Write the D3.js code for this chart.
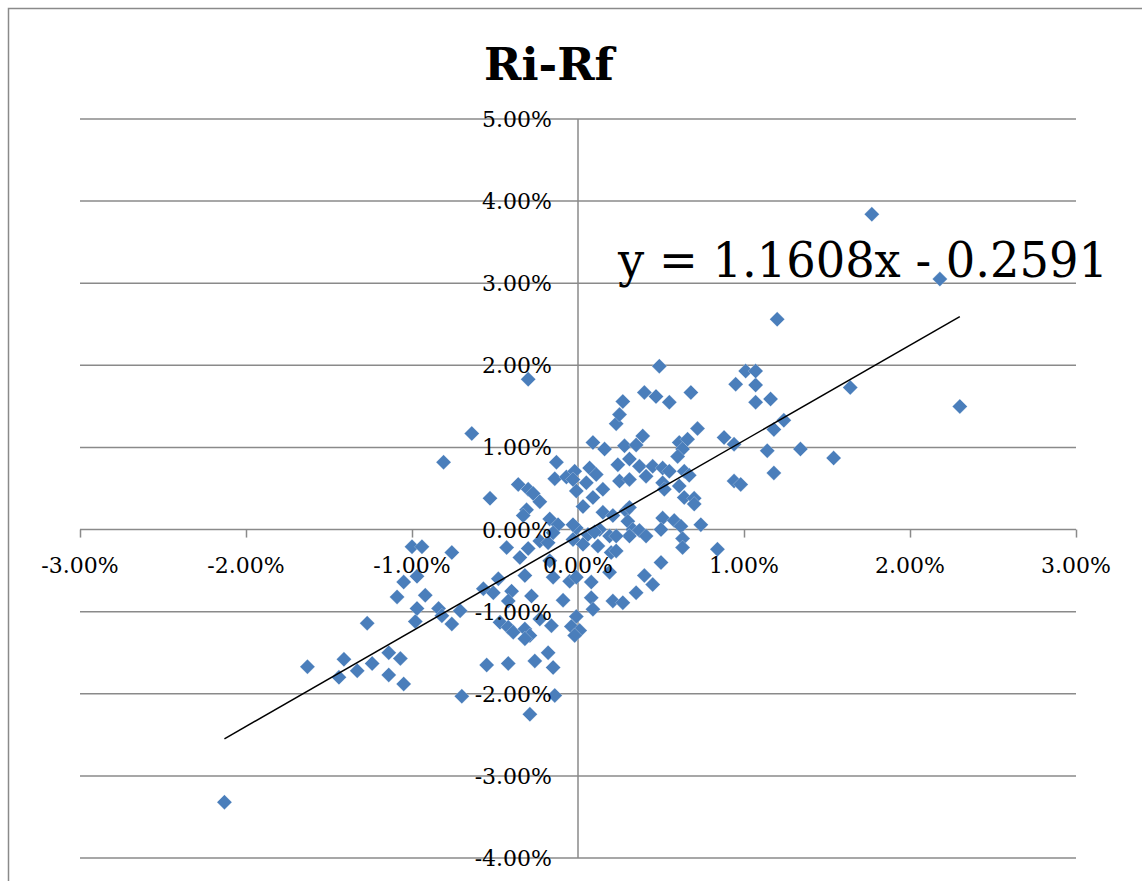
<!DOCTYPE html>
<html>
<head>
<meta charset="utf-8">
<title>Ri-Rf</title>
<script src="https://cdn.jsdelivr.net/npm/d3@7"></script>
<style>
  html, body { margin: 0; padding: 0; background: #ffffff; overflow: hidden; }
  svg { display: block; }
  text { font-family: "DejaVu Serif", "Liberation Serif", serif; fill: #000; }
</style>
</head>
<body>
<svg id="chart" width="1142" height="881"></svg>
<script>
// Market excess return (x, %) vs. stock excess return Ri-Rf (y, %)
const marketExcess = [
  -2.13, -1.63, -1.41, -1.44, -1.33, -1.24, -1.14, -1.07, -1.14, -1.05,
  -1.27, -1.00, -0.94, -0.76, -0.97, -1.05, -1.09, -0.92, -0.97, -0.84,
  -0.98, -0.82, -0.76, -0.71, -0.70, -0.81, -0.64,
  -0.43, -0.30, -0.35, -0.23, -0.18, -0.32, -0.48, -0.57, -0.51, -0.40,
  -0.42, -0.28, -0.15, -0.17, -0.47, -0.42, -0.39, -0.32, -0.29, -0.32,
  -0.23, -0.16, -0.18, -0.26, -0.15, -0.42, -0.55, -0.14, -0.29, -0.09,
  -0.05, -0.01, 0.08, 0.08, 0.09, 0.21, 0.27, 0.35, 0.40, 0.45,
  0.50, 0.19, 0.20, -0.01, -0.04, 0.01, -0.02, 0.03, -0.03,
  -0.31, -0.33, -0.17, -0.12, -0.15, -0.23, 0.15, 0.21, 0.29, 0.31,
  0.30, 0.33, 0.37, 0.41, 0.31, -0.01, 0.06, 0.13, 0.19, 0.51,
  0.58, 0.62, 0.50, 0.63, 0.63, 0.74, 0.84,
  -0.13, -0.14, -0.07, -0.02, -0.03, 0.07, 0.11, 0.05, 0.15, -0.01,
  0.09, 0.03, 0.24, 0.31, 0.25, 0.31, 0.37, 0.41, 0.45, 0.51,
  0.55, 0.64, 0.67, -0.36, -0.30, -0.27, -0.53, 0.09, 0.16, 0.28,
  0.35, 0.39, 0.51, 0.52, 0.61, 0.66, 0.63, 0.72, 0.60, 0.61,
  0.64, 0.70, 0.70, 0.88, 0.94, 0.94, 0.98, 1.14, 1.18, 1.18,
  1.24, 1.34, 1.54,
  0.23, 0.25, 0.27, 0.40, 0.47, 0.55, 0.68, 0.95, 1.07, 1.07,
  1.16, 1.01, 1.07, 0.49, 1.64, 1.20, 1.77, 2.18, 2.30, -0.30,
  -0.03, 0.12, 0.23, 0.23, 0.10
];
const stockExcess = [
  -3.32, -1.67, -1.58, -1.80, -1.72, -1.63, -1.50, -1.57, -1.77, -1.88,
  -1.14, -0.21, -0.21, -0.28, -0.57, -0.64, -0.82, -0.80, -0.96, -0.96,
  -1.12, -1.05, -1.15, -0.99, -2.03, 0.82, 1.17,
  -0.22, -0.23, -0.34, -0.14, -0.16, -0.56, -0.60, -0.72, -0.77, -0.75,
  -0.87, -0.81, -0.58, -0.38, -1.13, -1.19, -1.25, -1.21, -1.29, -1.33,
  -1.09, -1.17, -1.50, -1.60, -1.68, -1.63, -1.65, -2.02, -2.25, -0.86,
  -0.63, -0.58, -0.64, -0.83, -0.97, -0.87, -0.89, -0.77, -0.56, -0.67,
  -0.40, -0.52, -0.28, -1.06, -1.18, -1.23, -1.29, -0.18, -0.12,
  0.24, 0.17, 0.13, 0.06, -0.04, 0.34, 0.21, 0.17, 0.23, 0.27,
  0.10, 0.00, -0.01, -0.08, -0.08, 0.02, -0.06, 0.00, -0.08, 0.14,
  0.11, 0.04, 0.00, -0.11, -0.22, 0.06, -0.24,
  0.82, 0.62, 0.64, 0.71, 0.61, 0.75, 0.67, 0.57, 0.49, 0.47,
  0.39, 0.28, 0.79, 0.86, 0.59, 0.61, 0.77, 0.65, 0.77, 0.75,
  0.71, 0.71, 0.66, 0.55, 0.49, 0.44, 0.38, 1.06, 0.98, 1.02,
  1.03, 1.14, 0.57, 0.49, 1.06, 1.10, 0.98, 1.23, 0.89, 0.53,
  0.39, 0.38, 0.31, 1.12, 1.04, 0.59, 0.55, 0.96, 1.22, 0.69,
  1.33, 0.98, 0.87,
  1.29, 1.40, 1.56, 1.67, 1.62, 1.55, 1.67, 1.77, 1.76, 1.55,
  1.59, 1.93, 1.93, 1.99, 1.73, 2.56, 3.84, 3.05, 1.50, 1.83,
  0.06, -0.20, -0.08, -0.26, -0.03
];

// Linear trendline (least-squares fit, in % units)
const trendSlope = 1.1608;
const trendIntercept = -0.076;
const trendLabel = "y = 1.1608x - 0.2591";

const chartTitle = "Ri-Rf";
const xTicks = [-3, -2, -1, 0, 1, 2, 3];
const yTicks = [-4, -3, -2, -1, 0, 1, 2, 3, 4, 5];

const points = marketExcess.map((x, i) => ({ x, y: stockExcess[i] }));

const svg = d3.select("#chart");
const plot = { left: 80, right: 1076, top: 119, bottom: 858 };
const gridColor = "#8a8a8a";
const markerColor = "#4a7ebb";

const x = d3.scaleLinear().domain([-3, 3]).range([plot.left, plot.right]);
const y = d3.scaleLinear().domain([-4, 5]).range([plot.bottom, plot.top]);
const fmt = d => d.toFixed(2) + "%";

// chart frame
svg.append("rect")
  .attr("x", 8.5).attr("y", 8.5)
  .attr("width", 1300).attr("height", 1000)
  .attr("fill", "#fff")
  .attr("stroke", gridColor).attr("stroke-width", 1.5);

// horizontal gridlines
svg.append("g")
  .selectAll("line")
  .data(yTicks)
  .join("line")
  .attr("x1", plot.left).attr("x2", plot.right)
  .attr("y1", d => y(d)).attr("y2", d => y(d))
  .attr("stroke", gridColor).attr("stroke-width", 1.5);

// vertical axis through x = 0
svg.append("line")
  .attr("x1", x(0)).attr("x2", x(0))
  .attr("y1", plot.top).attr("y2", plot.bottom)
  .attr("stroke", gridColor).attr("stroke-width", 1.5);

// x tick marks hanging below the zero line
const xAxis = d3.axisBottom(x).tickValues(xTicks).tickSize(8).tickFormat("");
const xAxisG = svg.append("g")
  .attr("transform", `translate(0,${y(0)})`)
  .call(xAxis);
xAxisG.select(".domain").remove();
xAxisG.selectAll(".tick line").attr("stroke", gridColor).attr("stroke-width", 1.5);

// scatter markers (diamonds)
const r = 7.5;
const diamond = `M0,${-r}L${r},0L0,${r}L${-r},0Z`;
svg.append("g")
  .selectAll("path")
  .data(points)
  .join("path")
  .attr("d", diamond)
  .attr("transform", d => `translate(${x(d.x)},${y(d.y)})`)
  .attr("fill", markerColor)
  .attr("stroke", "rgba(255,255,255,0.35)")
  .attr("stroke-width", 0.7);

// trendline across the data range
const xExtent = d3.extent(marketExcess);
svg.append("line")
  .attr("x1", x(xExtent[0])).attr("y1", y(trendSlope * xExtent[0] + trendIntercept))
  .attr("x2", x(xExtent[1])).attr("y2", y(trendSlope * xExtent[1] + trendIntercept))
  .attr("stroke", "#000").attr("stroke-width", 1.5);

// y tick labels, left of the vertical axis
svg.append("g")
  .selectAll("text")
  .data(yTicks)
  .join("text")
  .attr("x", x(0) - 26)
  .attr("y", d => y(d) + 8)
  .attr("text-anchor", "end")
  .attr("font-size", 22)
  .text(fmt);

// x tick labels, below the zero line
svg.append("g")
  .selectAll("text")
  .data(xTicks)
  .join("text")
  .attr("x", d => x(d))
  .attr("y", y(0) + 43)
  .attr("text-anchor", "middle")
  .attr("font-size", 22)
  .text(fmt);

// trendline equation
svg.append("text")
  .attr("x", 618).attr("y", 277)
  .attr("font-size", 48)
  .attr("textLength", 490)
  .attr("lengthAdjust", "spacingAndGlyphs")
  .text(trendLabel);

// title
svg.append("text")
  .attr("x", 549).attr("y", 80)
  .attr("text-anchor", "middle")
  .attr("font-size", 45)
  .attr("font-weight", "bold")
  .text(chartTitle);
</script>
</body>
</html>
